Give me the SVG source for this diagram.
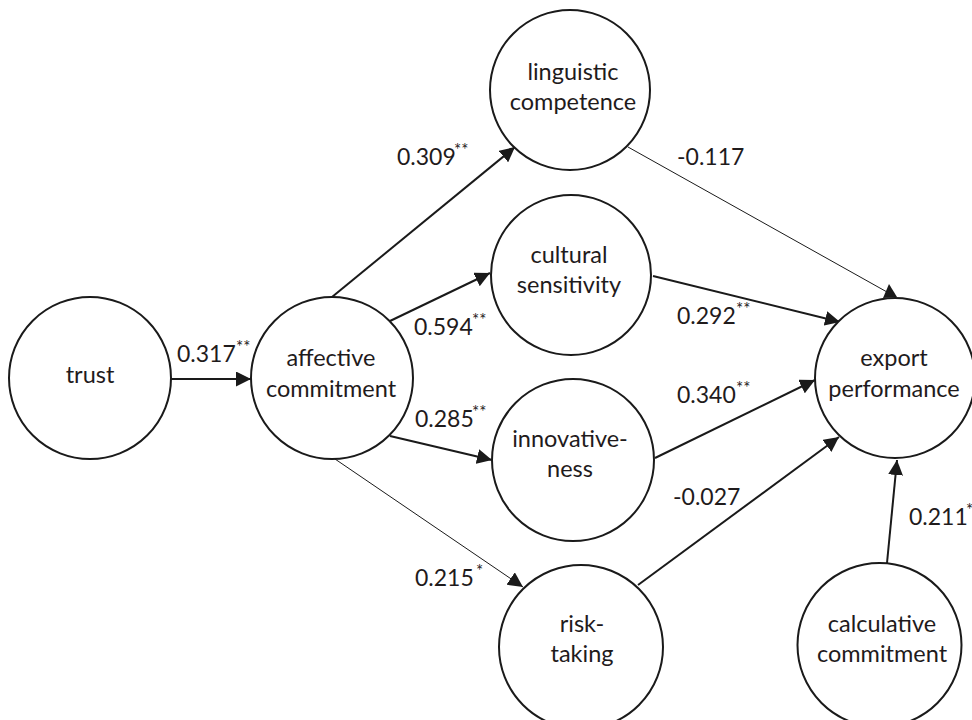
<svg xmlns="http://www.w3.org/2000/svg" width="972" height="720" viewBox="0 0 972 720">
  <style>
    .node { fill: #ffffff; stroke: #1a1a1a; stroke-width: 2; }
    .lbl { font-family: Lato, "Liberation Sans", sans-serif; font-size: 23.5px; fill: #1f1b1c; text-anchor: middle; }
    .num { font-family: Lato, "Liberation Sans", sans-serif; font-size: 23px; fill: #1f1b1c; }
    .sig { font-family: Lato, "Liberation Sans", sans-serif; font-size: 17px; fill: #1f1b1c; }
    .edge { fill: none; stroke: #1a1a1a; stroke-width: 2; }
    .edge.thin { stroke-width: 1; }
  </style>
  <defs>
    <marker id="arrow" markerUnits="userSpaceOnUse" markerWidth="16" markerHeight="15" refX="15" refY="7.5" orient="auto">
      <path d="M0,0 L15,7.5 L0,15 z" fill="#1a1a1a"/>
    </marker>
  </defs>
  <rect width="972" height="720" fill="#ffffff"/>

  <!-- paths between constructs -->
  <g id="connectors">
    <line class="edge" x1="171" y1="379" x2="251" y2="379" marker-end="url(#arrow)"/>
    <line class="edge" x1="332" y1="297" x2="515" y2="147" marker-end="url(#arrow)"/>
    <line class="edge" x1="390" y1="321" x2="490" y2="273" marker-end="url(#arrow)"/>
    <line class="edge" x1="390" y1="436" x2="492" y2="460" marker-end="url(#arrow)"/>
    <line class="edge thin" x1="335" y1="459" x2="523" y2="587" marker-end="url(#arrow)"/>
    <line class="edge thin" x1="628" y1="147" x2="887" y2="292"/>
    <polygon points="883,298 897,297 889,284" fill="#1a1a1a"/>
    <line class="edge" x1="653" y1="276" x2="840" y2="322" marker-end="url(#arrow)"/>
    <line class="edge" x1="655" y1="458" x2="815" y2="380" marker-end="url(#arrow)"/>
    <line class="edge" x1="638" y1="585" x2="839" y2="437" marker-end="url(#arrow)"/>
    <line class="edge" x1="887" y1="563" x2="897" y2="460" marker-end="url(#arrow)"/>
  </g>

  <!-- path coefficients -->
  <g id="coefficients">
    <text class="num" x="177" y="362">0.317</text><text class="sig" x="236" y="353">**</text>
    <text class="num" x="397" y="165">0.309</text><text class="sig" x="454" y="156">**</text>
    <text class="num" x="414" y="335">0.594</text><text class="sig" x="472" y="326">**</text>
    <text class="num" x="415" y="427">0.285</text><text class="sig" x="472" y="418">**</text>
    <text class="num" x="415" y="586">0.215</text><text class="sig" x="476" y="577">*</text>
    <text class="num" x="677" y="165">-0.117</text>
    <text class="num" x="677" y="324">0.292</text><text class="sig" x="736" y="315">**</text>
    <text class="num" x="677" y="403">0.340</text><text class="sig" x="736" y="394">**</text>
    <text class="num" x="673" y="505">-0.027</text>
    <text class="num" x="909" y="525">0.211</text><text class="sig" x="966" y="516">*</text>
  </g>

  <g id="trust">
    <circle class="node" cx="90" cy="378" r="81"/>
    <text class="lbl" x="90" y="383">trust</text>
  </g>
  <g id="affective-commitment">
    <circle class="node" cx="332" cy="378" r="81"/>
    <text class="lbl" x="331" y="366">affective</text>
    <text class="lbl" x="331" y="397">commitment</text>
  </g>
  <g id="linguistic-competence">
    <circle class="node" cx="570" cy="90" r="80"/>
    <text class="lbl" x="573" y="80">linguistic</text>
    <text class="lbl" x="573" y="110">competence</text>
  </g>
  <g id="cultural-sensitivity">
    <circle class="node" cx="571" cy="275" r="80"/>
    <text class="lbl" x="569" y="263">cultural</text>
    <text class="lbl" x="569" y="293">sensitivity</text>
  </g>
  <g id="innovativeness">
    <circle class="node" cx="573" cy="460" r="81"/>
    <text class="lbl" x="570" y="447">innovative-</text>
    <text class="lbl" x="570" y="477">ness</text>
  </g>
  <g id="risk-taking">
    <circle class="node" cx="581" cy="647" r="82"/>
    <text class="lbl" x="582" y="632">risk-</text>
    <text class="lbl" x="582" y="662">taking</text>
  </g>
  <g id="export-performance">
    <circle class="node" cx="895" cy="378" r="80"/>
    <text class="lbl" x="894" y="366">export</text>
    <text class="lbl" x="894" y="397">performance</text>
  </g>
  <g id="calculative-commitment">
    <circle class="node" cx="879.5" cy="645" r="82"/>
    <text class="lbl" x="882" y="632">calculative</text>
    <text class="lbl" x="882" y="662">commitment</text>
  </g>
</svg>
